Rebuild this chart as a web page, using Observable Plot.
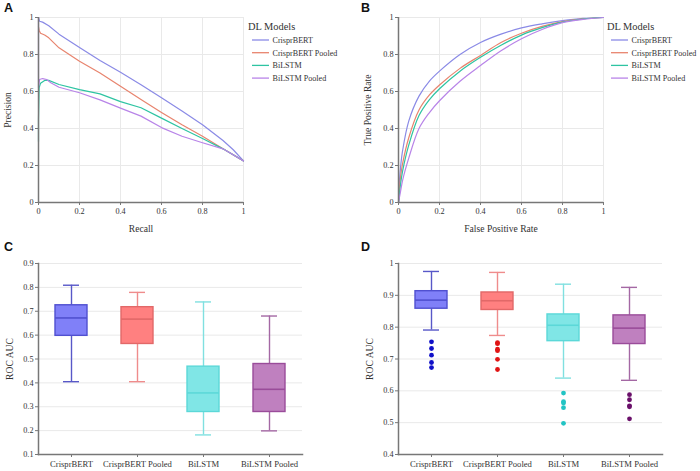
<!DOCTYPE html>
<html>
<head>
<meta charset="utf-8">
<script src="https://cdn.jsdelivr.net/npm/d3@7"></script>
<script src="https://cdn.jsdelivr.net/npm/@observablehq/plot@0.6"></script>
<style>
  html, body { margin: 0; padding: 0; background: #fff; }
  #root { position: relative; width: 700px; height: 471px; font-family: "Liberation Serif", serif; color: #333; overflow: hidden; }
  .panel { position: absolute; }
  .letter { position: absolute; font-family: "Liberation Sans", Arial, sans-serif; font-weight: bold; font-size: 12.5px; color: #111; }
  g[aria-label="x-axis tick label"], g[aria-label="y-axis tick label"] { font-size: 8.2px; }
  g[aria-label="x-axis label"], g[aria-label="y-axis label"] { font-size: 9.6px; }
  svg.box g[aria-label="x-axis tick label"] { font-size: 8.6px; }
</style>
</head>
<body>
<div id="root"></div>
<script>
// ---------- DATA ----------
const models = ["CrisprBERT", "CrisprBERT Pooled", "BiLSTM", "BiLSTM Pooled"];
const lineColors = ["#8a8ae6", "#e8846e", "#2ec4a2", "#b884e8"];

// Panel A: precision-recall curves [recall, precision]
const prCrisprBERT = [[0,1.0],[0.005,0.98],[0.02,0.975],[0.05,0.955],[0.1,0.91],[0.2,0.838],[0.3,0.768],[0.4,0.704],[0.5,0.637],[0.6,0.566],[0.7,0.494],[0.8,0.42],[0.9,0.335],[0.95,0.285],[1,0.225]];
const prCrisprBERTPooled = [[0,0.95],[0.003,0.93],[0.01,0.915],[0.03,0.905],[0.05,0.89],[0.1,0.836],[0.2,0.764],[0.3,0.70],[0.4,0.629],[0.5,0.557],[0.6,0.487],[0.7,0.42],[0.8,0.358],[0.9,0.29],[1,0.225]];
const prBiLSTM = [[0,0.33],[0,0.45],[0.003,0.62],[0.01,0.645],[0.03,0.66],[0.05,0.66],[0.1,0.638],[0.2,0.61],[0.3,0.587],[0.4,0.545],[0.5,0.512],[0.6,0.456],[0.7,0.40],[0.8,0.346],[0.9,0.29],[1,0.225]];
const prBiLSTMPooled = [[0,1.0],[0,0.62],[0.005,0.665],[0.02,0.67],[0.04,0.665],[0.06,0.647],[0.1,0.623],[0.2,0.593],[0.3,0.555],[0.4,0.51],[0.5,0.467],[0.6,0.405],[0.7,0.358],[0.8,0.323],[0.9,0.29],[1,0.225]];

// Panel B: ROC curves [fpr, tpr]
const rocCrisprBERT = [[0,0],[0.005,0.12],[0.01,0.19],[0.02,0.28],[0.05,0.44],[0.1,0.575],[0.15,0.655],[0.2,0.71],[0.3,0.8],[0.4,0.865],[0.5,0.91],[0.6,0.944],[0.7,0.966],[0.8,0.983],[0.9,0.995],[1,1]];
const rocCrisprBERTPooled = [[0,0],[0.005,0.08],[0.01,0.14],[0.02,0.21],[0.05,0.35],[0.1,0.5],[0.15,0.58],[0.2,0.635],[0.3,0.725],[0.4,0.795],[0.5,0.865],[0.6,0.915],[0.7,0.952],[0.8,0.978],[0.9,0.993],[1,1]];
const rocBiLSTM = [[0,0],[0.005,0.05],[0.01,0.1],[0.02,0.17],[0.05,0.31],[0.1,0.47],[0.15,0.555],[0.2,0.615],[0.3,0.71],[0.4,0.785],[0.5,0.85],[0.6,0.905],[0.7,0.945],[0.8,0.975],[0.9,0.992],[1,1]];
const rocBiLSTMPooled = [[0,0],[0.005,0.03],[0.01,0.06],[0.02,0.12],[0.05,0.24],[0.1,0.4],[0.15,0.485],[0.2,0.55],[0.3,0.655],[0.4,0.74],[0.5,0.82],[0.6,0.885],[0.7,0.935],[0.8,0.972],[0.9,0.99],[1,1]];

const unitTicks = [0, 0.2, 0.4, 0.6, 0.8, 1];

// Panel C: box statistics
const cLow  = [0.405, 0.405, 0.182, 0.199];
const cQ1   = [0.597, 0.563, 0.278, 0.278];
const cMed  = [0.672, 0.667, 0.358, 0.373];
const cQ3   = [0.725, 0.717, 0.468, 0.479];
const cHigh = [0.809, 0.779, 0.739, 0.680];
const cTicks = [0.1, 0.2, 0.3, 0.4, 0.5, 0.6, 0.7, 0.8, 0.9];

// Panel D: box statistics and outliers
const dLow  = [0.791, 0.774, 0.640, 0.633];
const dQ1   = [0.858, 0.854, 0.756, 0.747];
const dMed  = [0.885, 0.883, 0.806, 0.797];
const dQ3   = [0.913, 0.909, 0.840, 0.837];
const dHigh = [0.975, 0.972, 0.935, 0.925];
const dOutCrisprBERT = [0.754, 0.733, 0.712, 0.689, 0.673];
const dOutCrisprBERTPooled = [0.751, 0.748, 0.731, 0.726, 0.699, 0.667];
const dOutBiLSTM = [0.593, 0.566, 0.562, 0.547, 0.498];
const dOutBiLSTMPooled = [0.588, 0.572, 0.553, 0.550, 0.512];
const dTicks = [0.4, 0.5, 0.6, 0.7, 0.8, 0.9, 1];

const boxFill    = ["#8080f8", "#ff8080", "#80e6e6", "#bf80bf"];
const boxStroke  = ["#5050d0", "#e26868", "#5cd8d8", "#9a4c9a"];
const whiskColor = ["#5858c8", "#ef8c8c", "#80e0e0", "#a468a4"];
const outColor   = ["#1010c8", "#e01414", "#22c4c4", "#6a106a"];

// ---------- HELPERS ----------
const root = document.getElementById("root");
const fmt = d3.format("~g");
const gridColor = "#e9e9e9";
const axisColor = "#777";
const font = "Liberation Serif, serif";

function place(el, left, top, cls) {
  el.classList.add("panel");
  if (cls) el.classList.add(cls);
  el.style.left = left + "px";
  el.style.top = top + "px";
  root.appendChild(el);
}
function letter(t, left, top) {
  const d = document.createElement("div");
  d.className = "letter"; d.textContent = t;
  d.style.left = left + "px"; d.style.top = top + "px";
  root.appendChild(d);
}
function legend(left, top, width) {
  const svg = d3.create("svg").attr("width", width).attr("height", 70)
    .style("position", "absolute").style("left", left + "px").style("top", top + "px")
    .style("font-family", font);
  svg.append("text").attr("x", 0).attr("y", 13).attr("font-size", 10.4).attr("fill", "#333").text("DL Models");
  models.forEach((m, i) => {
    const y = 23 + i * 12.7;
    svg.append("line").attr("x1", 4).attr("x2", 21).attr("y1", y).attr("y2", y)
      .attr("stroke", lineColors[i]).attr("stroke-width", 1.3);
    svg.append("text").attr("x", 24.5).attr("y", y + 3).attr("font-size", 8.1).attr("fill", "#333").text(m);
  });
  root.appendChild(svg.node());
}
function toRows(arrs) {
  const rows = [];
  arrs.forEach((arr, i) => arr.forEach(([x, y], j) => rows.push({model: models[i], x, y, j})));
  return rows;
}

function curvePanel(rows, xLabel, yLabel, margins, curve) {
  return Plot.plot({
    width: 350, height: 235,
    ...margins,
    style: {fontFamily: font, fontSize: "8.2px", color: "#333", background: "transparent", overflow: "visible"},
    x: {domain: [0, 1]},
    y: {domain: [0, 1]},
    color: {domain: models, range: lineColors},
    marks: [
      Plot.gridX(unitTicks, {stroke: gridColor, strokeOpacity: 1}),
      Plot.gridY(unitTicks, {stroke: gridColor, strokeOpacity: 1}),
      Plot.axisX({ticks: unitTicks, tickFormat: fmt, tickSize: 3, tickPadding: 3, stroke: axisColor, label: xLabel, labelAnchor: "center", labelArrow: "none", labelOffset: 29}),
      Plot.axisY({ticks: unitTicks, tickFormat: fmt, tickSize: 3, tickPadding: 2, stroke: axisColor, label: yLabel, labelAnchor: "center", labelArrow: "none", labelOffset: 34}),
      Plot.line(rows, {x: "x", y: "y", z: "model", stroke: "model", strokeWidth: 1.2, curve}),
      Plot.ruleX([0], {stroke: axisColor, strokeWidth: 1.5}),
      Plot.ruleY([0], {stroke: axisColor, strokeWidth: 1.5})
    ]
  });
}

function boxPanel(stats, outliers, yDomain, yTicks, margins) {
  const boxes = models.map((m, i) => ({model: m, low: stats.low[i], q1: stats.q1[i], med: stats.med[i], q3: stats.q3[i], high: stats.high[i], i}));
  const outs = [];
  outliers.forEach((arr, i) => arr.forEach(v => outs.push({model: models[i], v, i})));
  return Plot.plot({
    width: 350, height: 236,
    ...margins,
    style: {fontFamily: font, fontSize: "8.2px", color: "#333", background: "transparent", overflow: "visible"},
    x: {domain: models, padding: 0},
    y: {domain: yDomain},
    color: {type: "identity"},
    marks: [
      Plot.gridY(yTicks, {stroke: gridColor, strokeOpacity: 1}),
      Plot.axisX({tickSize: 3, tickPadding: 3, stroke: axisColor, label: null}),
      Plot.axisY({ticks: yTicks, tickFormat: fmt, tickSize: 3, tickPadding: 2, stroke: axisColor, label: "ROC AUC", labelAnchor: "center", labelArrow: "none", labelOffset: 32}),
      Plot.ruleX(boxes, {x: "model", y1: "low", y2: "q1", stroke: d => whiskColor[d.i], strokeWidth: 1.4}),
      Plot.ruleX(boxes, {x: "model", y1: "q3", y2: "high", stroke: d => whiskColor[d.i], strokeWidth: 1.4}),
      Plot.tickY(boxes, {x: "model", y: "low", stroke: d => whiskColor[d.i], strokeWidth: 1.4, insetLeft: 25, insetRight: 25}),
      Plot.tickY(boxes, {x: "model", y: "high", stroke: d => whiskColor[d.i], strokeWidth: 1.4, insetLeft: 25, insetRight: 25}),
      Plot.barY(boxes, {x: "model", y1: "q1", y2: "q3", fill: d => boxFill[d.i], stroke: d => boxStroke[d.i], strokeWidth: 1.4, insetLeft: 17, insetRight: 17}),
      Plot.tickY(boxes, {x: "model", y: "med", stroke: d => boxStroke[d.i], strokeWidth: 1.6, insetLeft: 17, insetRight: 17}),
      Plot.dot(outs, {x: "model", y: "v", fill: d => outColor[d.i], r: 2.4}),
      Plot.frame({anchor: "left", stroke: axisColor, strokeWidth: 1.5}),
      Plot.frame({anchor: "bottom", stroke: axisColor, strokeWidth: 1.5})
    ]
  });
}

// ---------- BUILD ----------
place(curvePanel(toRows([prCrisprBERT, prCrisprBERTPooled, prBiLSTM, prBiLSTMPooled]), "Recall", "Precision",
  {marginLeft: 38, marginRight: 107, marginTop: 17, marginBottom: 33}, "linear"), 0, 0);
place(curvePanel(toRows([rocCrisprBERT, rocCrisprBERTPooled, rocBiLSTM, rocBiLSTMPooled]), "False Positive Rate", "True Positive Rate",
  {marginLeft: 48, marginRight: 97, marginTop: 17, marginBottom: 33}, "catmull-rom"), 350, 0);
place(boxPanel({low: cLow, q1: cQ1, med: cMed, q3: cQ3, high: cHigh}, [[], [], [], []], [0.1, 0.9], cTicks,
  {marginLeft: 38, marginRight: 48, marginTop: 28, marginBottom: 17}), 0, 235, "box");
place(boxPanel({low: dLow, q1: dQ1, med: dMed, q3: dQ3, high: dHigh},
  [dOutCrisprBERT, dOutCrisprBERTPooled, dOutBiLSTM, dOutBiLSTMPooled], [0.4, 1], dTicks,
  {marginLeft: 48, marginRight: 38, marginTop: 28, marginBottom: 17}), 350, 235, "box");

legend(248, 17, 100);
legend(607, 17, 93);
letter("A", 4, 1);
letter("B", 361, 1);
letter("C", 4, 240);
letter("D", 361, 240);
</script>
</body>
</html>
